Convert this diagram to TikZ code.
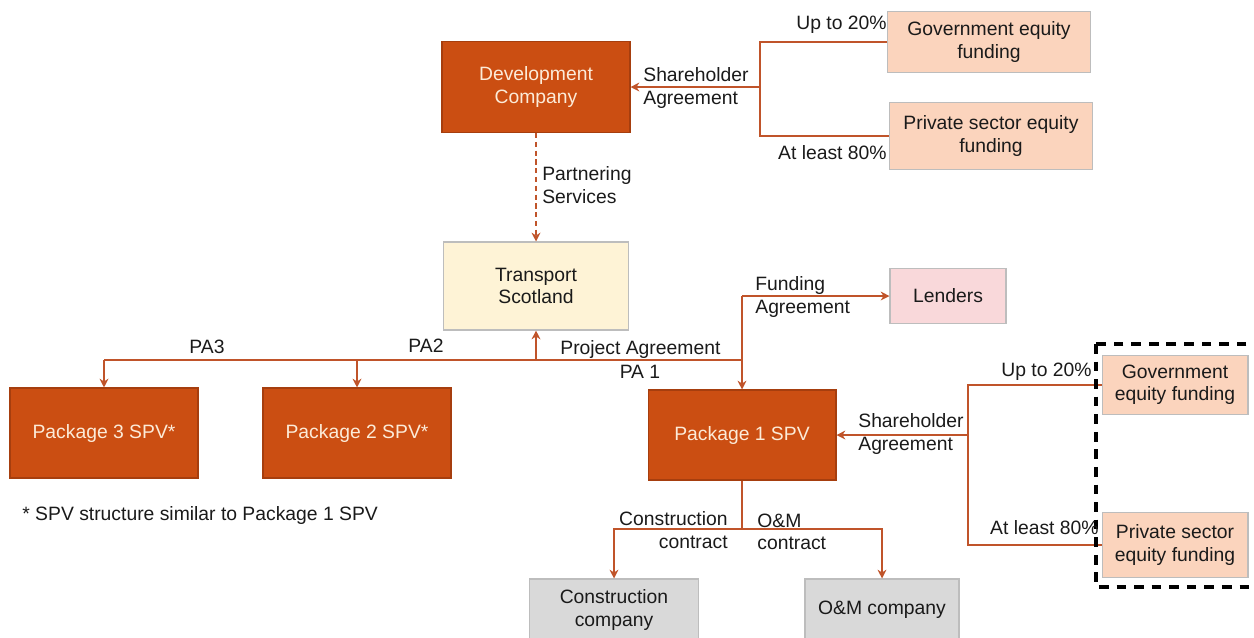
\documentclass[tikz,border=0pt]{standalone}
\usepackage{fontspec}
\setmainfont{Liberation Sans}
\usetikzlibrary{arrows.meta}
\definecolor{spvfill}{HTML}{CB4E12}
\definecolor{spvedge}{HTML}{A63E0E}
\definecolor{spvtext}{HTML}{FCEBD8}
\definecolor{peach}{HTML}{FBD4BD}
\definecolor{pink}{HTML}{F9D8DA}
\definecolor{cream}{HTML}{FEF3D6}
\definecolor{greybox}{HTML}{D9D9D9}
\definecolor{edgegrey}{HTML}{BDBDBD}
\definecolor{wire}{HTML}{C0542A}
\definecolor{ink}{HTML}{1A1A1A}
\begin{document}
\begin{tikzpicture}[x=0.02cm,y=-0.02cm,
  every node/.style={font=\fontsize{11}{12.8}\selectfont, text=ink},
  spv/.style={draw=spvedge, line width=0.6pt, fill=spvfill, align=center,
    text=spvtext, minimum width=3.76cm, minimum height=1.8cm},
  fund/.style={draw=edgegrey, line width=0.6pt, fill=peach, align=center, inner sep=1pt},
  lbl/.style={inner sep=0pt, align=left},
  wireline/.style={draw=wire, line width=0.9pt},
  arr/.style={wireline, -{Stealth[length=5pt,width=5pt]}},
  dashbox/.style={draw=black, line width=1.8pt, dash pattern=on 5.5pt off 4.5pt}]
\useasboundingbox (0,0) rectangle (1254,637);

% top: development company and its shareholders
\node[spv, minimum width=3.76cm, minimum height=1.82cm] (dev) at (536,87) {Development\\Company};
\node[fund, minimum width=4.06cm, minimum height=1.21cm] (gov1) at (989,42) {Government equity\\funding};
\node[fund, minimum width=4.06cm, minimum height=1.33cm] (priv1) at (991,136) {Private sector equity\\funding};
\coordinate (j1) at (760,87);
\draw[wireline] (gov1.west) -| (j1) |- (priv1.west);
\draw[arr] (j1) -- (dev.east);
\node[lbl, anchor=west] (sha1) at (643,88) {Shareholder\\Agreement};
\node[lbl, anchor=east] (up1) at (887,25) {Up to 20\%};
\node[lbl, anchor=east] (al1) at (887,153) {At least 80\%};

% partnering services
\node[draw=edgegrey, line width=0.6pt, fill=cream, align=center,
  minimum width=3.70cm, minimum height=1.76cm] (ts) at (536,286) {Transport\\Scotland};
\draw[wireline, dash pattern=on 3pt off 2pt, -{Stealth[length=5pt,width=5pt]}] (dev.south) -- (ts.north);
\node[lbl, anchor=west] (ps) at (542,185) {Partnering\\Services};

% package SPVs and project agreements
\node[spv] (p3) at (104,433) {Package 3 SPV*};
\node[spv] (p2) at (357,433) {Package 2 SPV*};
\node[spv] (p1) at (742,435) {Package 1 SPV};
\coordinate (pa) at (536,360);
\draw[wireline] (p3.north |- pa) -- (p1.north |- pa);
\draw[arr] (pa) -- (ts.south);
\draw[arr] (p3.north |- pa) -- (p3.north);
\draw[arr] (p2.north |- pa) -- (p2.north);
\node[lbl] (pa3) at (207,347) {PA3};
\node[lbl] (pa2) at (426,346) {PA2};
\node[lbl, anchor=west] (pag) at (560,349) {Project Agreement};
\node[lbl] (pa1) at (640,372) {PA 1};

% lenders
\node[draw=edgegrey, line width=0.6pt, fill=pink, minimum width=2.32cm, minimum height=1.1cm] (len) at (948,296) {Lenders};
\coordinate (jf) at (742,296);
\draw[arr] (jf) -- (len.west);
\draw[arr] (jf) -- (p1.north);
\node[lbl, anchor=west] (fa) at (755,297) {Funding\\Agreement};

% package 1 shareholders
\node[fund, minimum width=2.92cm, minimum height=1.19cm] (gov2) at (1175,385) {Government\\equity funding};
\node[fund, minimum width=2.92cm, minimum height=1.3cm] (priv2) at (1175,545) {Private sector\\equity funding};
\coordinate (j2) at (968,435);
\draw[wireline] (gov2.west) -| (j2) |- (priv2.west);
\draw[arr] (j2) -- (p1.east);
\draw[dashbox] (1096,344) rectangle (1262,587);
\node[lbl, anchor=west] (sha2) at (858,434) {Shareholder\\Agreement};
\node[lbl, anchor=east] (up2) at (1092,372) {Up to 20\%};
\node[lbl, anchor=east] (al2) at (1099,528) {At least 80\%};

% contractors
\node[draw=edgegrey, line width=0.6pt, fill=greybox, align=center,
  minimum width=3.38cm, minimum height=1.24cm] (cc) at (614,610) {Construction\\company};
\node[draw=edgegrey, line width=0.6pt, fill=greybox,
  minimum width=3.08cm, minimum height=1.24cm] (om) at (882,610) {O\&M company};
\coordinate (j3) at (742,529);
\draw[wireline] (p1.south) -- (j3);
\draw[arr] (j3) -| (cc.north);
\draw[arr] (j3) -| (om.north);
\node[lbl, anchor=east, align=right] (ccl) at (728,530) {Construction\\contract};
\node[lbl, anchor=west] (oml) at (757,532) {O\&M\\contract};

% footnote
\node[lbl, anchor=west] (note) at (22,515) {* SPV structure similar to Package 1 SPV};
\end{tikzpicture}
\end{document}
